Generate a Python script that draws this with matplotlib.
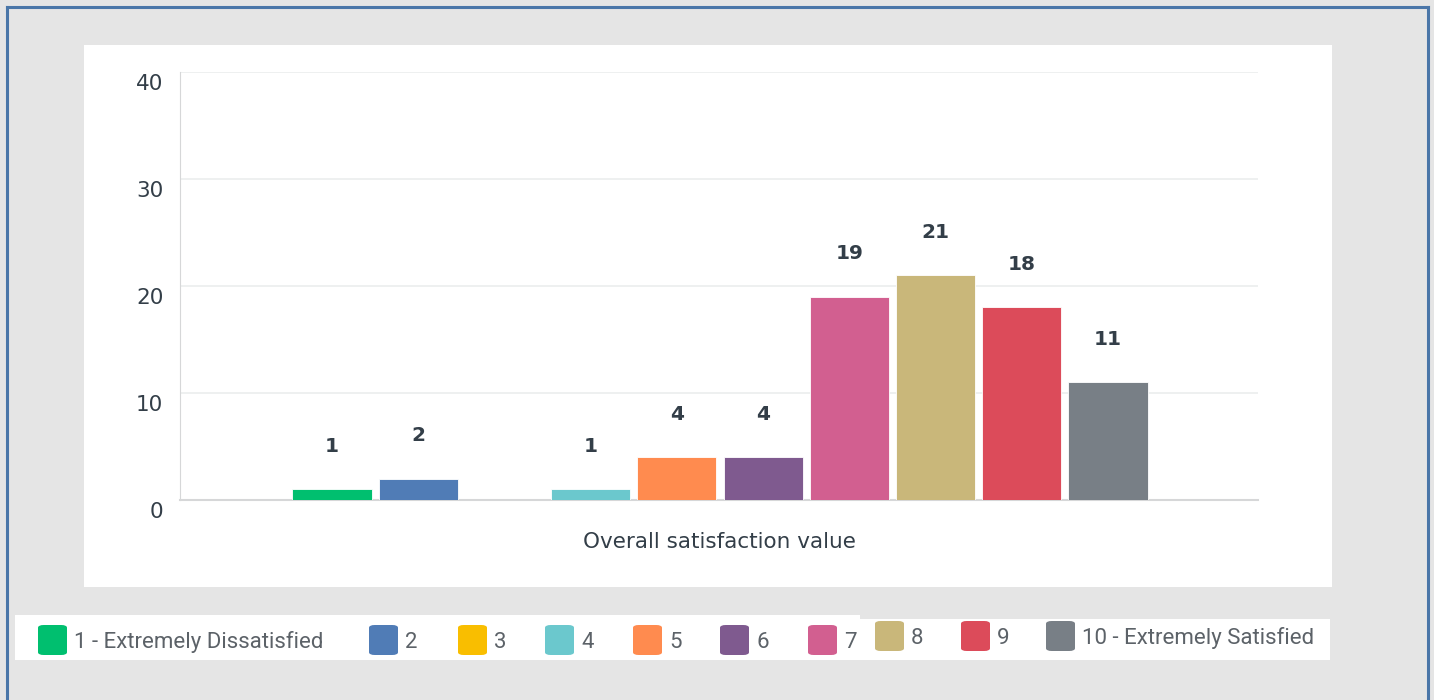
import matplotlib.pyplot as plt
from matplotlib.patches import Rectangle, FancyBboxPatch
from matplotlib.lines import Line2D
import matplotlib.transforms as mtransforms

# datos
categorias = ['1 - Extremely Dissatisfied', '2', '3', '4', '5', '6', '7', '8', '9',
              '10 - Extremely Satisfied']
valores = [1, 2, 0, 1, 4, 4, 19, 21, 18, 11]
colores = ['#00bf6f', '#507cb6', '#f9be00', '#6bc8cd', '#ff8b4f',
           '#7f5a8f', '#d25f90', '#c9b77a', '#dc4b5a', '#787f86']
yticks = [0, 10, 20, 30, 40]

W, H = 1434, 700
fig = plt.figure(figsize=(W / 100, H / 100), dpi=100, facecolor='#e5e5e5')

def px(x0, y0, w, h):
    # rectangulo en pixeles (origen arriba-izquierda) -> coordenadas de figura
    return (x0 / W, 1 - (y0 + h) / H, w / W, h / H)

# borde azul
for xs, ys in [([7 / W, 7 / W], [0, 1 - 7 / H]),
               ([7 / W, 1428 / W], [1 - 7 / H, 1 - 7 / H]),
               ([1428 / W, 1428 / W], [0, 1 - 7 / H])]:
    fig.add_artist(Line2D(xs, ys, color='#4a76a8', lw=2.2, transform=fig.transFigure))

# panel blanco
fig.add_artist(Rectangle(px(84, 45, 1248, 542)[:2], 1248 / W, 542 / H,
                         transform=fig.transFigure, facecolor='white', edgecolor='none', zorder=0))

ax = fig.add_axes(px(180, 72, 1078, 428))
ax.set_facecolor('white')
x = list(range(len(valores)))
ax.bar(x, valores, width=0.917, color=colores, edgecolor='white', linewidth=0.6, zorder=3)
for xi, v in zip(x, valores):
    if v > 0:
        ax.annotate(str(v), (xi, v), xytext=(0, 31), textcoords='offset points',
                    ha='center', va='center', fontsize=14.5, fontweight='bold',
                    color='#333e48', family='DejaVu Sans')

ax.set_xlim(-1.763, 10.74)
ax.set_ylim(0, 40)
ax.set_yticks(yticks)
ax.set_xticks([])
ax.grid(axis='y', color='#ebedee', lw=1.2, zorder=0)
for s in ['top', 'right']:
    ax.spines[s].set_visible(False)
ax.spines['left'].set_color('#d6d7d8')
ax.spines['bottom'].set_color('#d6d7d8')
ax.spines['bottom'].set_linewidth(1.5)
ax.tick_params(axis='y', length=0, pad=12, labelsize=15.5, labelcolor='#333e48')
for lab in ax.get_yticklabels():
    lab.set_family('DejaVu Sans')
    lab.set_transform(lab.get_transform() +
                      mtransforms.ScaledTranslation(0, -10 / 100, fig.dpi_scale_trans))
ax.set_xlabel('Overall satisfaction value', fontsize=15.5, color='#333e48',
              family='DejaVu Sans', labelpad=23)

# leyenda (dos cajas blancas)
fig.add_artist(Rectangle(px(15, 615, 845, 45)[:2], 845 / W, 45 / H,
                         transform=fig.transFigure, facecolor='white', edgecolor='none'))
fig.add_artist(Rectangle(px(860, 619, 470, 41)[:2], 470 / W, 41 / H,
                         transform=fig.transFigure, facecolor='white', edgecolor='none'))
ley_x = [38, 369, 458, 545, 633, 720, 808, 875, 961, 1046]
for i, (cat, col) in enumerate(zip(categorias, colores)):
    y0 = 625 if i < 7 else 621
    x0, y0f, w, h = px(ley_x[i], y0, 29, 30)
    fig.add_artist(FancyBboxPatch((x0, y0f), w, h, boxstyle='round,pad=0,rounding_size=0.004',
                                  transform=fig.transFigure, facecolor=col, edgecolor='none'))
    fig.text((ley_x[i] + 36) / W, 1 - (y0 + 17) / H, cat, fontsize=16, color='#5c6268',
             family='Roboto', fontweight='normal', ha='left', va='center')

fig.savefig('out.png', dpi=100, facecolor=fig.get_facecolor())
